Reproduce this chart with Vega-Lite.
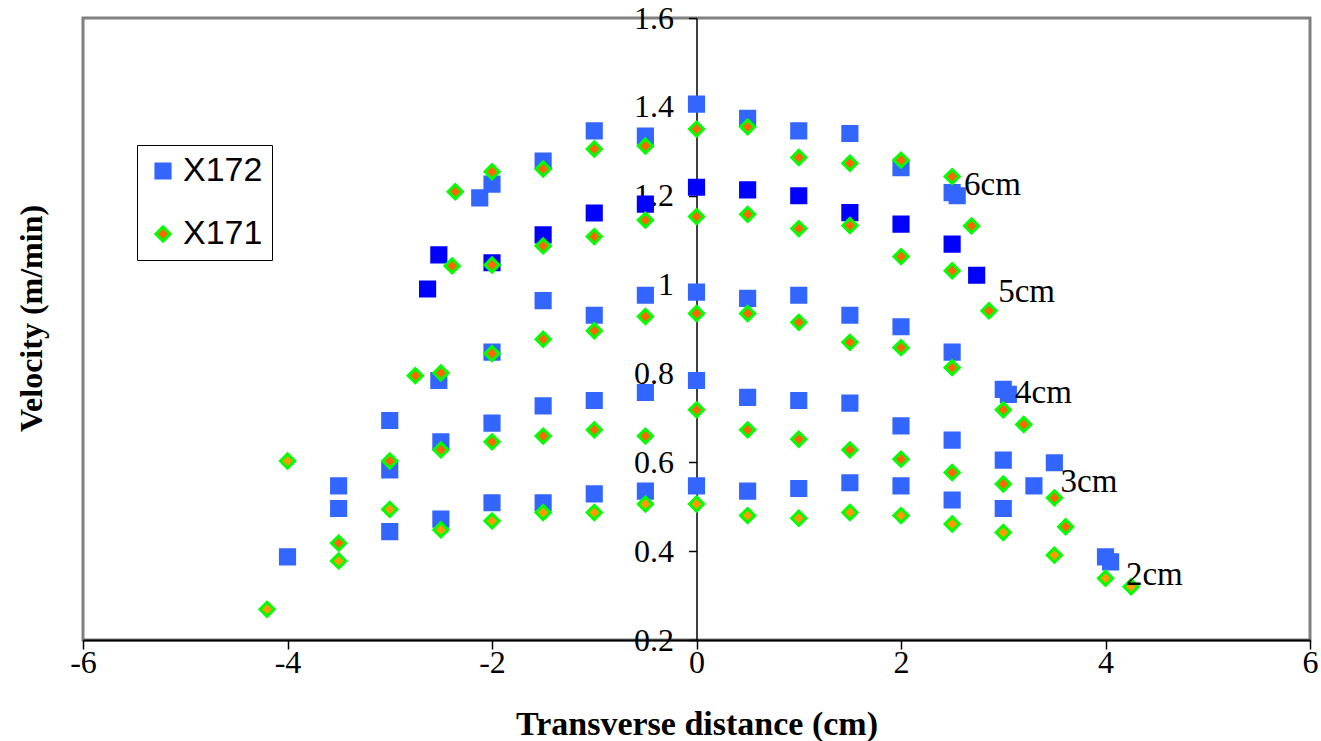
{
  "$schema": "https://vega.github.io/schema/vega-lite/v6.json",
  "autosize": {"type": "none"},
  "padding": {"left": 83, "top": 18, "right": 11, "bottom": 101},
  "width": 1227,
  "height": 622,
  "background": "white",
  "config": {
    "view": {"stroke": "#808080", "strokeWidth": 3},
    "axis": {"grid": false}
  },
  "datasets": {
    "pts": [
      {"d": -2.12, "v": 1.195, "grp": "X172"}, {"d": -2.0, "v": 1.226, "grp": "X172"}, {"d": -1.5, "v": 1.278, "grp": "X172"}, {"d": -1.0, "v": 1.346, "grp": "X172"}, {"d": -0.5, "v": 1.334, "grp": "X172"}, {"d": 0, "v": 1.406, "grp": "X172"}, {"d": 0.5, "v": 1.374, "grp": "X172"}, {"d": 1.0, "v": 1.346, "grp": "X172"}, {"d": 1.5, "v": 1.34, "grp": "X172"}, {"d": 2.0, "v": 1.263, "grp": "X172"}, {"d": 2.5, "v": 1.207, "grp": "X172"}, {"d": 2.55, "v": 1.2, "grp": "X172"},
      {"d": -2.52, "v": 0.784, "grp": "X172"}, {"d": -2.0, "v": 0.848, "grp": "X172"}, {"d": -1.5, "v": 0.964, "grp": "X172"}, {"d": -1.0, "v": 0.931, "grp": "X172"}, {"d": -0.5, "v": 0.976, "grp": "X172"}, {"d": 0, "v": 0.983, "grp": "X172"}, {"d": 0.5, "v": 0.969, "grp": "X172"}, {"d": 1.0, "v": 0.976, "grp": "X172"}, {"d": 1.5, "v": 0.931, "grp": "X172"}, {"d": 2.0, "v": 0.905, "grp": "X172"}, {"d": 2.5, "v": 0.848, "grp": "X172"}, {"d": 3.0, "v": 0.764, "grp": "X172"}, {"d": 3.05, "v": 0.753, "grp": "X172"},
      {"d": -3.5, "v": 0.547, "grp": "X172"}, {"d": -3.0, "v": 0.694, "grp": "X172"}, {"d": -2.5, "v": 0.646, "grp": "X172"}, {"d": -2.0, "v": 0.688, "grp": "X172"}, {"d": -1.5, "v": 0.727, "grp": "X172"}, {"d": -1.0, "v": 0.739, "grp": "X172"}, {"d": -0.5, "v": 0.757, "grp": "X172"}, {"d": 0, "v": 0.784, "grp": "X172"}, {"d": 0.5, "v": 0.746, "grp": "X172"}, {"d": 1.0, "v": 0.739, "grp": "X172"}, {"d": 1.5, "v": 0.733, "grp": "X172"}, {"d": 2.0, "v": 0.682, "grp": "X172"}, {"d": 2.5, "v": 0.65, "grp": "X172"}, {"d": 3.0, "v": 0.605, "grp": "X172"}, {"d": 3.5, "v": 0.599, "grp": "X172"},
      {"d": -4.0, "v": 0.387, "grp": "X172"}, {"d": -3.5, "v": 0.496, "grp": "X172"}, {"d": -3.0, "v": 0.583, "grp": "X172"}, {"d": -3.0, "v": 0.444, "grp": "X172"}, {"d": -2.5, "v": 0.472, "grp": "X172"}, {"d": -2.0, "v": 0.509, "grp": "X172"}, {"d": -1.5, "v": 0.509, "grp": "X172"}, {"d": -1.0, "v": 0.529, "grp": "X172"}, {"d": -0.5, "v": 0.535, "grp": "X172"}, {"d": 0, "v": 0.547, "grp": "X172"}, {"d": 0.5, "v": 0.535, "grp": "X172"}, {"d": 1.0, "v": 0.541, "grp": "X172"}, {"d": 1.5, "v": 0.554, "grp": "X172"}, {"d": 2.0, "v": 0.547, "grp": "X172"}, {"d": 2.5, "v": 0.515, "grp": "X172"}, {"d": 3.0, "v": 0.496, "grp": "X172"}, {"d": 3.3, "v": 0.547, "grp": "X172"}, {"d": 4.0, "v": 0.387, "grp": "X172"}, {"d": 4.05, "v": 0.376, "grp": "X172"},
      {"d": -2.63, "v": 0.99, "grp": "X172b"}, {"d": -2.52, "v": 1.067, "grp": "X172b"}, {"d": -2.0, "v": 1.049, "grp": "X172b"}, {"d": -1.5, "v": 1.112, "grp": "X172b"}, {"d": -1.0, "v": 1.161, "grp": "X172b"}, {"d": -0.5, "v": 1.181, "grp": "X172b"}, {"d": 0, "v": 1.219, "grp": "X172b"}, {"d": 0.5, "v": 1.213, "grp": "X172b"}, {"d": 1.0, "v": 1.2, "grp": "X172b"}, {"d": 1.5, "v": 1.162, "grp": "X172b"}, {"d": 2.0, "v": 1.136, "grp": "X172b"}, {"d": 2.5, "v": 1.091, "grp": "X172b"}, {"d": 2.74, "v": 1.021, "grp": "X172b"},
      {"d": -2.36, "v": 1.209, "grp": "X171"}, {"d": -2.0, "v": 1.254, "grp": "X171"}, {"d": -1.5, "v": 1.26, "grp": "X171"}, {"d": -1.0, "v": 1.305, "grp": "X171"}, {"d": -0.5, "v": 1.312, "grp": "X171"}, {"d": 0, "v": 1.35, "grp": "X171"}, {"d": 0.5, "v": 1.355, "grp": "X171"}, {"d": 1.0, "v": 1.286, "grp": "X171"}, {"d": 1.5, "v": 1.273, "grp": "X171"}, {"d": 2.0, "v": 1.28, "grp": "X171"}, {"d": 2.5, "v": 1.243, "grp": "X171"}, {"d": 2.69, "v": 1.132, "grp": "X171"},
      {"d": -2.39, "v": 1.042, "grp": "X171"}, {"d": -2.0, "v": 1.044, "grp": "X171"}, {"d": -1.5, "v": 1.087, "grp": "X171"}, {"d": -1.0, "v": 1.108, "grp": "X171"}, {"d": -0.5, "v": 1.145, "grp": "X171"}, {"d": 0, "v": 1.153, "grp": "X171"}, {"d": 0.5, "v": 1.158, "grp": "X171"}, {"d": 1.0, "v": 1.126, "grp": "X171"}, {"d": 1.5, "v": 1.133, "grp": "X171"}, {"d": 2.0, "v": 1.063, "grp": "X171"}, {"d": 2.5, "v": 1.031, "grp": "X171"}, {"d": 2.86, "v": 0.941, "grp": "X171"},
      {"d": -2.75, "v": 0.795, "grp": "X171"}, {"d": -2.5, "v": 0.801, "grp": "X171"}, {"d": -2.0, "v": 0.845, "grp": "X171"}, {"d": -1.5, "v": 0.877, "grp": "X171"}, {"d": -1.0, "v": 0.896, "grp": "X171"}, {"d": -0.5, "v": 0.928, "grp": "X171"}, {"d": 0, "v": 0.935, "grp": "X171"}, {"d": 0.5, "v": 0.935, "grp": "X171"}, {"d": 1.0, "v": 0.915, "grp": "X171"}, {"d": 1.5, "v": 0.87, "grp": "X171"}, {"d": 2.0, "v": 0.858, "grp": "X171"}, {"d": 2.5, "v": 0.813, "grp": "X171"}, {"d": 3.0, "v": 0.718, "grp": "X171"}, {"d": 3.2, "v": 0.685, "grp": "X171"},
      {"d": -3.5, "v": 0.418, "grp": "X171"}, {"d": -3.0, "v": 0.603, "grp": "X171"}, {"d": -2.5, "v": 0.628, "grp": "X171"}, {"d": -2.0, "v": 0.646, "grp": "X171"}, {"d": -1.5, "v": 0.659, "grp": "X171"}, {"d": -1.0, "v": 0.673, "grp": "X171"}, {"d": -0.5, "v": 0.659, "grp": "X171"}, {"d": 0, "v": 0.718, "grp": "X171"}, {"d": 0.5, "v": 0.673, "grp": "X171"}, {"d": 1.0, "v": 0.652, "grp": "X171"}, {"d": 1.5, "v": 0.628, "grp": "X171"}, {"d": 2.0, "v": 0.607, "grp": "X171"}, {"d": 2.5, "v": 0.577, "grp": "X171"}, {"d": 3.0, "v": 0.551, "grp": "X171"}, {"d": 3.5, "v": 0.52, "grp": "X171"}, {"d": 3.61, "v": 0.455, "grp": "X171"},
      {"d": -4.2, "v": 0.269, "grp": "X171b"}, {"d": -4.0, "v": 0.603, "grp": "X171b"}, {"d": -3.5, "v": 0.378, "grp": "X171b"}, {"d": -3.0, "v": 0.494, "grp": "X171b"}, {"d": -2.5, "v": 0.448, "grp": "X171b"}, {"d": -2.0, "v": 0.468, "grp": "X171b"}, {"d": -1.5, "v": 0.487, "grp": "X171b"}, {"d": -1.0, "v": 0.487, "grp": "X171b"}, {"d": -0.5, "v": 0.506, "grp": "X171b"}, {"d": 0, "v": 0.506, "grp": "X171b"}, {"d": 0.5, "v": 0.48, "grp": "X171b"}, {"d": 1.0, "v": 0.474, "grp": "X171b"}, {"d": 1.5, "v": 0.487, "grp": "X171b"}, {"d": 2.0, "v": 0.48, "grp": "X171b"}, {"d": 2.5, "v": 0.461, "grp": "X171b"}, {"d": 3.0, "v": 0.442, "grp": "X171b"}, {"d": 3.5, "v": 0.391, "grp": "X171b"}, {"d": 4.0, "v": 0.339, "grp": "X171b"}, {"d": 4.25, "v": 0.32, "grp": "X171b"}
    ],
    "labels": [
      {"d": 2.616, "v": 1.224, "label": "6cm"},
      {"d": 2.95, "v": 0.984, "label": "5cm"},
      {"d": 3.115, "v": 0.755, "label": "4cm"},
      {"d": 3.56, "v": 0.556, "label": "3cm"},
      {"d": 4.2, "v": 0.346, "label": "2cm"}
    ]
  },
  "layer": [
    {
      "data": {"name": "pts"},
      "mark": {"type": "point", "filled": true, "size": 200, "strokeWidth": 3, "opacity": 1, "strokeOpacity": 1, "fillOpacity": 1},
      "encoding": {
        "x": {
          "field": "d", "type": "quantitative",
          "scale": {"domain": [-6, 6], "nice": false, "zero": false},
          "axis": {
            "orient": "bottom", "values": [-6, -4, -2, 0, 2, 4, 6],
            "labelExpr": "'' + datum.value",
            "domainColor": "black", "domainWidth": 2, "tickColor": "black", "tickWidth": 1.5, "tickSize": 9,
            "labelFont": "Liberation Serif", "labelFontSize": 32, "labelColor": "black", "labelPadding": -2,
            "labelFlush": false, "labelOverlap": false,
            "title": "Transverse distance (cm)", "titleFont": "Liberation Serif", "titleFontSize": 34, "titleFontWeight": "bold", "titleColor": "black",
            "titleBaseline": "alphabetic", "titleY": 94
          }
        },
        "y": {
          "field": "v", "type": "quantitative",
          "scale": {"domain": [0.2, 1.6], "nice": false, "zero": false},
          "axis": {
            "orient": "left", "offset": -613.5, "values": [0.2, 0.4, 0.6, 0.8, 1, 1.2, 1.4, 1.6],
            "labelExpr": "'' + datum.value",
            "domainColor": "black", "domainWidth": 1.5, "tickColor": "black", "tickWidth": 1.5, "tickSize": 8,
            "labelFont": "Liberation Serif", "labelFontSize": 32, "labelColor": "black", "labelPadding": 15,
            "labelFlush": false, "labelOverlap": false, "labelBaseline": "middle",
            "title": "Velocity (m/min)", "titleFont": "Liberation Serif", "titleFontSize": 32, "titleFontWeight": "bold", "titleColor": "black",
            "titleX": -665.5, "titleY": 300, "titleAngle": -90, "titleAlign": "center", "titleBaseline": "middle"
          }
        },
        "fill": {
          "field": "grp", "type": "nominal",
          "scale": {"domain": ["X172", "X171", "X172b", "X171b"], "range": ["#3366FF", "#FF6600", "#0000FF", "#FF9900"]},
          "legend": {"values": ["X172", "X171"], "title": null, "orient": "none", "legendX": 54, "legendY": 127,
            "strokeColor": "black", "fillColor": "white", "padding": 9, "rowPadding": 29,
            "labelFont": "Liberation Sans", "labelFontSize": 34, "labelColor": "black", "labelOffset": 3,
            "symbolSize": 200, "symbolStrokeWidth": 3}
        },
        "shape": {
          "field": "grp", "type": "nominal",
          "scale": {"domain": ["X172", "X171", "X172b", "X171b"], "range": ["square", "diamond", "square", "diamond"]},
          "legend": {"values": ["X172", "X171"], "title": null, "orient": "none", "legendX": 54, "legendY": 127,
            "strokeColor": "black", "fillColor": "white", "padding": 9, "rowPadding": 29,
            "labelFont": "Liberation Sans", "labelFontSize": 34, "labelColor": "black", "labelOffset": 3,
            "symbolSize": 200, "symbolStrokeWidth": 3}
        },
        "stroke": {
          "field": "grp", "type": "nominal",
          "scale": {"domain": ["X172", "X171", "X172b", "X171b"], "range": ["#3366FF", "#00FF00", "#0000FF", "#00FF00"]},
          "legend": {"values": ["X172", "X171"], "title": null, "orient": "none", "legendX": 54, "legendY": 127,
            "strokeColor": "black", "fillColor": "white", "padding": 9, "rowPadding": 29,
            "labelFont": "Liberation Sans", "labelFontSize": 34, "labelColor": "black", "labelOffset": 3,
            "symbolSize": 200, "symbolStrokeWidth": 3}
        }
      }
    },
    {
      "data": {"name": "labels"},
      "mark": {"type": "text", "align": "left", "baseline": "middle", "font": "Liberation Serif", "fontSize": 33, "color": "black"},
      "encoding": {
        "x": {"field": "d", "type": "quantitative"},
        "y": {"field": "v", "type": "quantitative"},
        "text": {"field": "label", "type": "nominal"}
      }
    }
  ]
}
